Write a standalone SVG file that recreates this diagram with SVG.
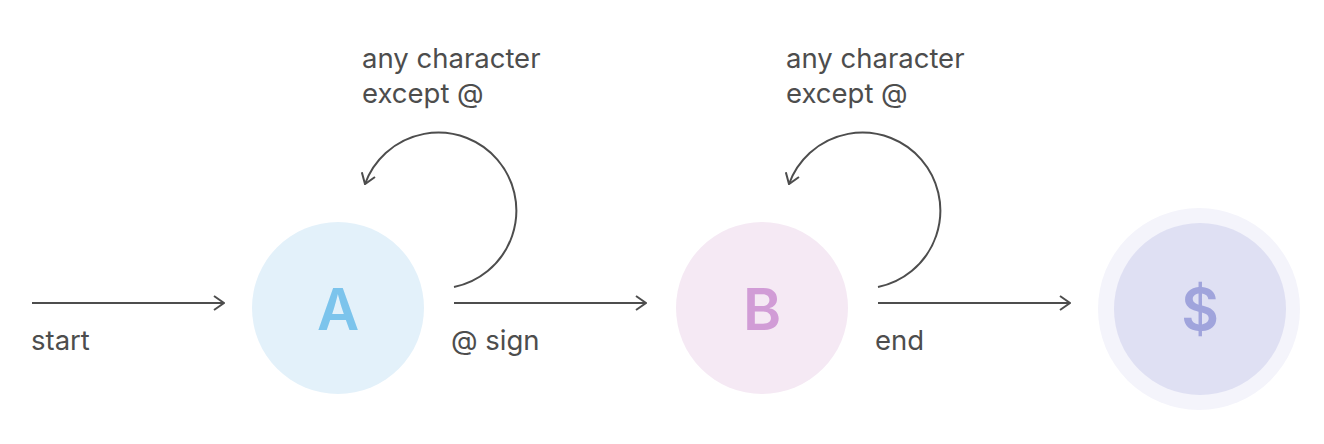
<svg xmlns="http://www.w3.org/2000/svg" width="1324" height="444" viewBox="0 0 1324 444">
<style>
.lbl{font-family:Inter,"Noto Sans","Liberation Sans",sans-serif;font-size:27.5px;fill:#4d4d4d}
.big{font-family:Inter,"Noto Sans","Liberation Sans",sans-serif;font-size:58px;font-weight:600;text-anchor:middle}
.edge{fill:none;stroke:#4d4d4d;stroke-width:2}
</style>
<defs>
<marker id="ah" viewBox="0 0 12 16" refX="11" refY="8" markerWidth="12" markerHeight="16" markerUnits="userSpaceOnUse" orient="auto">
<path d="M1,1 L11,8 L1,15" fill="none" stroke="#4d4d4d" stroke-width="2"/>
</marker>
</defs>
<rect width="1324" height="444" fill="#ffffff"/>
<g id="nodeA">
<circle cx="338" cy="308" r="86" fill="#e3f1fa"/>
<text class="big" x="338" y="330" fill="#7cc4ec">A</text>
</g>
<g id="nodeB">
<circle cx="762" cy="308" r="86" fill="#f5e9f4"/>
<text class="big" x="762" y="330" fill="#d19cd6">B</text>
</g>
<g id="nodeEnd">
<circle cx="1199" cy="309" r="101" fill="#f4f4fb"/>
<circle cx="1200" cy="309" r="86" fill="#dfe0f3"/>
<text class="big" x="1200" y="330" fill="#a0a4dc">$</text>
</g>
<g id="connectors">
<line class="edge" x1="32" y1="303" x2="224" y2="303" marker-end="url(#ah)"/>
<line class="edge" x1="454" y1="303" x2="646" y2="303" marker-end="url(#ah)"/>
<line class="edge" x1="878" y1="303" x2="1070" y2="303" marker-end="url(#ah)"/>
<path class="edge" d="M454,287 A78,78 0 1 0 365,184" marker-end="url(#ah)"/>
<path class="edge" d="M878,287 A78,78 0 1 0 789,184" marker-end="url(#ah)"/>
</g>
<g id="labels">
<text class="lbl" x="31" y="350">start</text>
<text class="lbl" x="451" y="350">@ sign</text>
<text class="lbl" x="875" y="350">end</text>
<text class="lbl" x="362" y="68">any character</text>
<text class="lbl" x="362" y="103">except @</text>
<text class="lbl" x="786" y="68">any character</text>
<text class="lbl" x="786" y="103">except @</text>
</g>
</svg>
